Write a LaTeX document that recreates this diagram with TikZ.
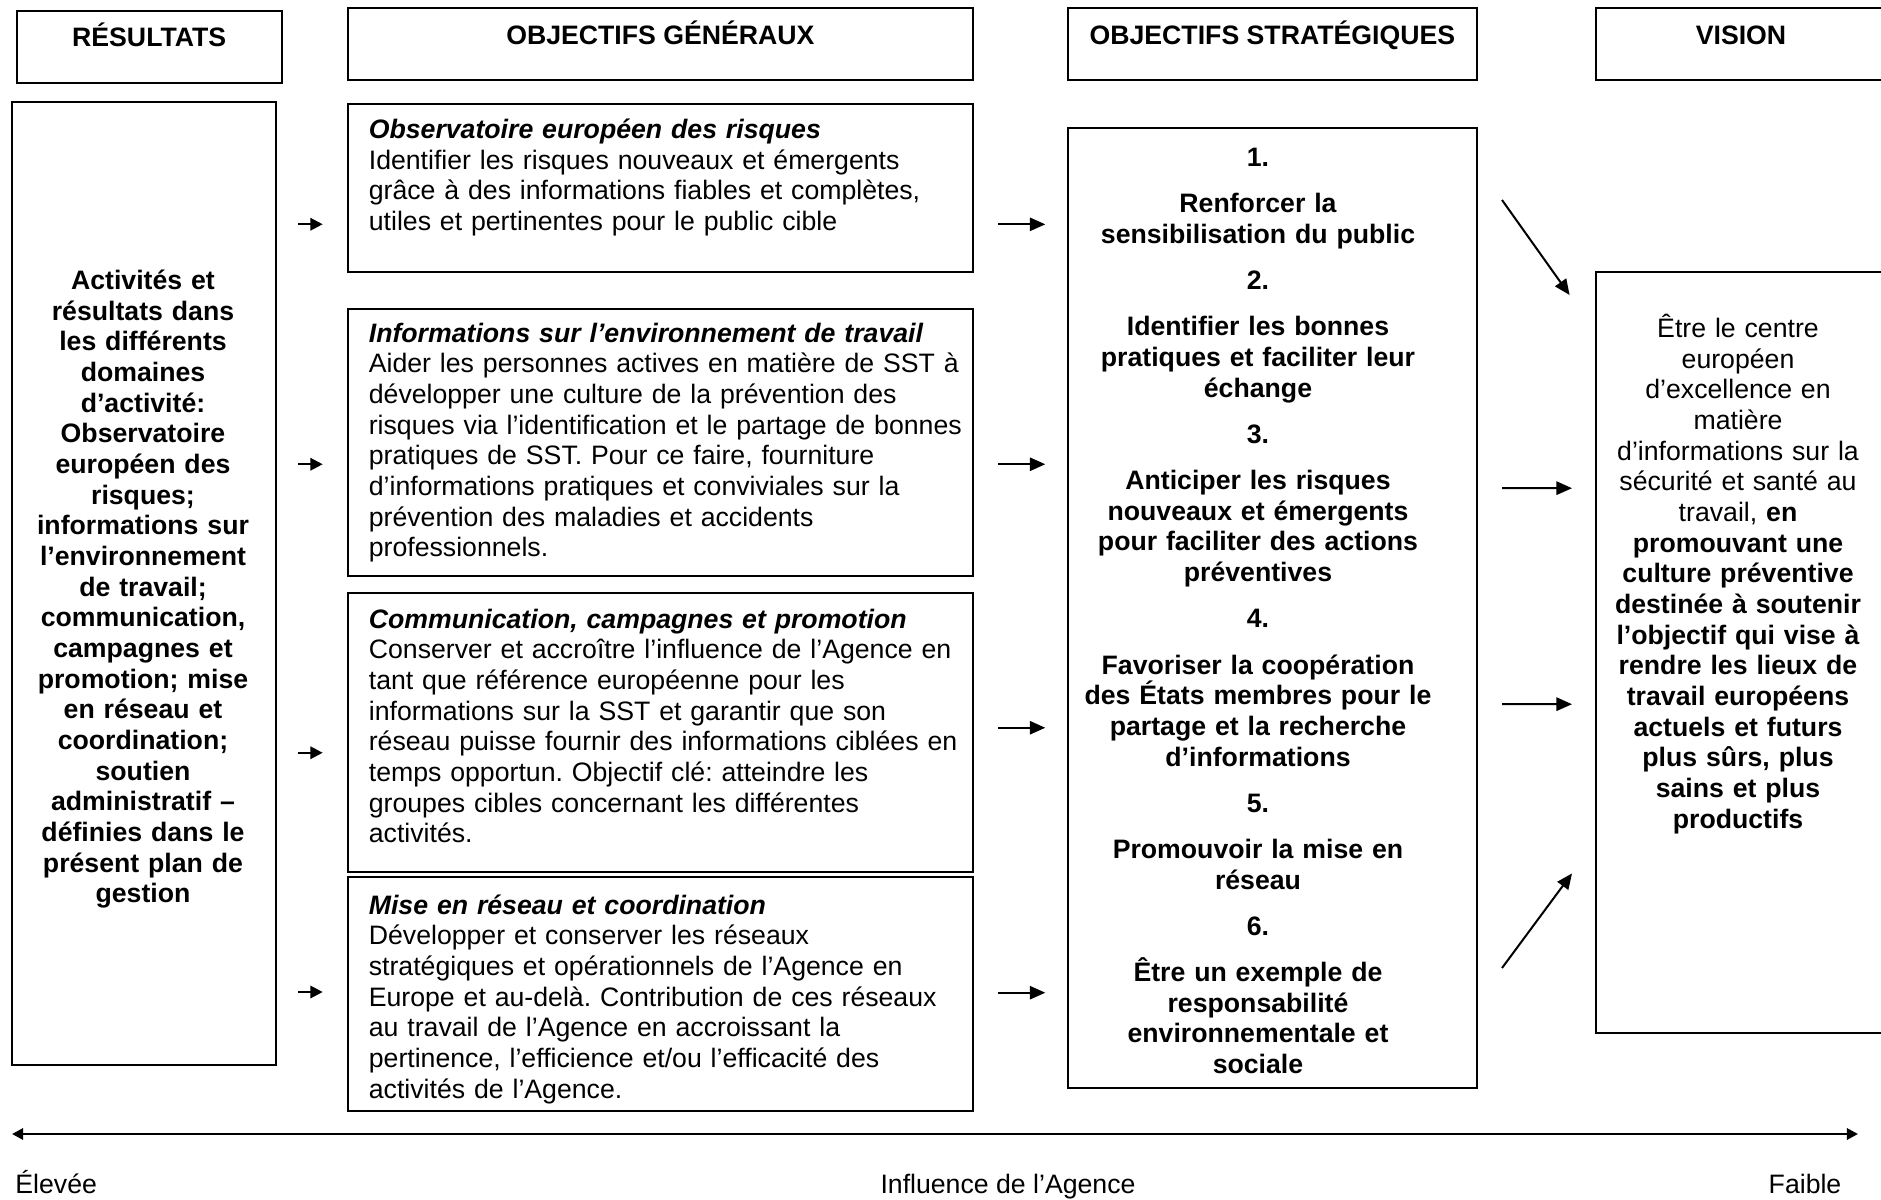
\documentclass[tikz,border=0pt]{standalone}
\usepackage{fontspec}
\setmainfont{Liberation Sans}
\usetikzlibrary{arrows.meta,calc}

\newcommand{\fs}{\fontsize{12}{13.8}\selectfont\frenchspacing}
\newcommand{\pxu}{0.45pt}

\tikzset{
  box/.style={draw, line width=0.9pt, anchor=north west, inner sep=0pt},
  headbox/.style={box, minimum height=72*\pxu, font=\fs\bfseries,
                  text height=9pt, text depth=9pt},
  bodytext/.style={anchor=west, inner sep=0pt, text width=270pt,
                   align=left, font=\fs},
  centertext/.style={inner sep=0pt, align=center, font=\fs},
  shortarrow/.style={-{Triangle[length=5.5pt,width=5.5pt]}, line width=1pt},
  longarrow/.style={-{Triangle[length=7pt,width=6pt]}, line width=0.9pt},
  axis/.style={{Triangle[length=5pt,width=5pt]}-{Triangle[length=5pt,width=5pt]},
               line width=1.3pt},
  lab/.style={inner sep=0pt, font=\fs}
}

\begin{document}
\begin{tikzpicture}[x=0.45pt, y=-0.45pt]
\useasboundingbox (0,0) rectangle (1881,1199);

% column headers
\node[headbox, minimum width=265.2*\pxu] (hres) at (15.6,9.6) {RÉSULTATS};
\node[headbox, minimum width=625.2*\pxu] (hgen) at (346.8,7.2) {OBJECTIFS GÉNÉRAUX};
\node[headbox, minimum width=409.3*\pxu] (hstr) at (1066.7,7.2) {OBJECTIFS STRATÉGIQUES};
\node[headbox, minimum width=290.4*\pxu] (hvis) at (1594.8,7.2) {VISION};

% frames
\node[box, minimum width=264.3*\pxu, minimum height=963.3*\pxu] (act) at (11,101) {};
\node[box, minimum width=625.2*\pxu, minimum height=167.5*\pxu] (obs) at (346.8,103) {};
\node[box, minimum width=625.2*\pxu, minimum height=266.7*\pxu] (env) at (346.8,308.3) {};
\node[box, minimum width=625.2*\pxu, minimum height=278.7*\pxu] (com) at (346.8,592) {};
\node[box, minimum width=625.2*\pxu, minimum height=234*\pxu] (net) at (346.8,876) {};
\node[box, minimum width=409.3*\pxu, minimum height=960.6*\pxu] (strat) at (1066.7,126.7) {};
\node[box, minimum width=290.4*\pxu, minimum height=760.8*\pxu] (vis) at (1594.8,271.2) {};

% texts
\node[centertext, text width=118pt, font=\fs\bfseries] (act-t) at (143,589.2)
{Activités et\\ résultats dans\\ les différents\\ domaines\\ d’activité:\\
 Observatoire\\ européen des\\ risques;\\ informations sur\\ l’environnement\\
 de travail;\\ communication,\\ campagnes et\\ promotion; mise\\ en réseau et\\
 coordination;\\ soutien\\ administratif –\\ définies dans le\\ présent plan de\\ gestion};

\node[bodytext] (obs-t) at (368.4,177.5)
{\textbf{\textit{Observatoire européen des risques}}\\
 Identifier les risques nouveaux et émergents\\
 grâce à des informations fiables et complètes,\\
 utiles et pertinentes pour le public cible};

\node[bodytext] (env-t) at (368.4,442.5)
{\textbf{\textit{Informations sur l’environnement de travail}}\\
 Aider les personnes actives en matière de SST à\\
 développer une culture de la prévention des\\
 risques via l’identification et le partage de bonnes\\
 pratiques de SST. Pour ce faire, fourniture\\
 d’informations pratiques et conviviales sur la\\
 prévention des maladies et accidents\\
 professionnels.};

\node[bodytext] (com-t) at (368.4,726)
{\textbf{\textit{Communication, campagnes et promotion}}\\
 Conserver et accroître l’influence de l’Agence en\\
 tant que référence européenne pour les\\
 informations sur la SST et garantir que son\\
 réseau puisse fournir des informations ciblées en\\
 temps opportun. Objectif clé: atteindre les\\
 groupes cibles concernant les différentes\\
 activités.};

\node[bodytext] (net-t) at (368.4,999)
{\textbf{\textit{Mise en réseau et coordination}}\\
 Développer et conserver les réseaux\\
 stratégiques et opérationnels de l’Agence en\\
 Europe et au-delà. Contribution de ces réseaux\\
 au travail de l’Agence en accroissant la\\
 pertinence, l’efficience et/ou l’efficacité des\\
 activités de l’Agence.};

\node[centertext, text width=170pt, font=\fs\bfseries] (strat-t) at (1258,611)
{1.\\[7pt]
 Renforcer la\\ sensibilisation du public\\[7pt]
 2.\\[7pt]
 Identifier les bonnes\\ pratiques et faciliter leur\\ échange\\[7pt]
 3.\\[7pt]
 Anticiper les risques\\ nouveaux et émergents\\ pour faciliter des actions\\ préventives\\[7pt]
 4.\\[7pt]
 Favoriser la coopération\\ des États membres pour le\\ partage et la recherche\\ d’informations\\[7pt]
 5.\\[7pt]
 Promouvoir la mise en\\ réseau\\[7pt]
 6.\\[7pt]
 Être un exemple de\\ responsabilité\\ environnementale et\\ sociale};

\node[centertext, text width=124pt] (vis-t) at (1738,574)
{Être le centre\\ européen\\ d’excellence en\\ matière\\ d’informations sur la\\
 sécurité et santé au\\ travail, \bfseries en\\ promouvant une\\ culture préventive\\
 destinée à soutenir\\ l’objectif qui vise à\\ rendre les lieux de\\ travail européens\\
 actuels et futurs\\ plus sûrs, plus\\ sains et plus\\ productifs};

% arrows into and out of the general objectives
\foreach \b/\dl/\dm in {obs/36.5/36.6, env/21.6/21.6, com/20.4/-4.6, net/-2/-1.3}
{
  \draw[shortarrow] ($(\b.west)+(-48.8,\dl)$) -- ($(\b.west)+(-24.1,\dl)$);
  \draw[longarrow] ($(\b.east)+(24,\dm)$) -- ($(\b.east)+(71.3,\dm)$);
}

% arrows towards the vision
\foreach \ds/\dv/\dx in {-408/-357.6/-25.2, -120/-164.4/-22.8, 96/51.6/-22.8, 360/220.8/-22.8}
  \draw[longarrow] ($(strat.east)+(24,\ds)$) -- ($(vis.west)+(\dx,\dv)$);

% influence axis
\coordinate (axl) at (12,1134);
\coordinate (axr) at (1858,1134);
\draw[axis] (axl) -- (axr);
\node[lab, anchor=base west] (lo) at (15,1193.5) {Élevée};
\node[lab, anchor=base] (mid) at (1008,1193.5) {Influence de l’Agence};
\node[lab, anchor=base] (hi) at (1805,1193.5) {Faible};
\end{tikzpicture}
\end{document}
